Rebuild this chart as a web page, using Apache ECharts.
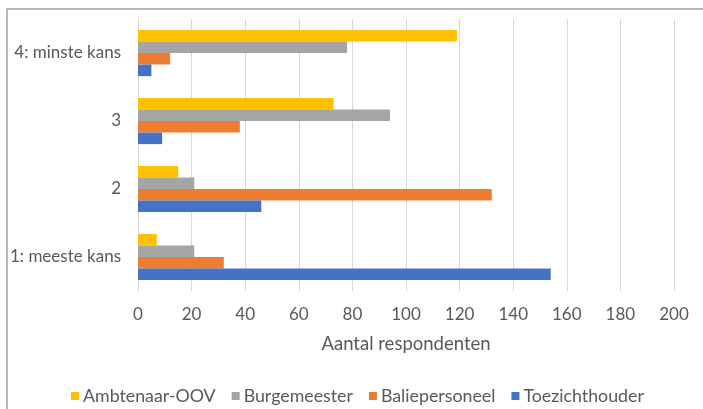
<!DOCTYPE html>
<html>
<head>
<meta charset="utf-8">
<script src="https://cdn.jsdelivr.net/npm/echarts@6/dist/echarts.min.js"></script>
<style>
  html, body { margin: 0; padding: 0; background: #fff; }
  #chart { width: 703px; height: 409px; }
</style>
</head>
<body>
<div id="chart"></div>
<script>
// Answer categories, bottom to top
const categories = ['1: meeste kans', '2', '3', '4: minste kans'];

// Number of respondents per category, one list per role
const ambtenaarOOV   = [7, 15, 73, 119];
const burgemeester   = [21, 21, 94, 78];
const baliepersoneel = [32, 132, 38, 12];
const toezichthouder = [154, 46, 9, 5];

const seriesNames = ['Ambtenaar-OOV', 'Burgemeester', 'Baliepersoneel', 'Toezichthouder'];
const seriesData = [ambtenaarOOV, burgemeester, baliepersoneel, toezichthouder];
const seriesColors = ['#FFC000', '#A5A5A5', '#ED7D31', '#4472C4'];

const xTicks = { min: 0, max: 200, interval: 20 };
const axisTitle = 'Aantal respondenten';

const FONT = 'Lato';
const TEXT = '#595959';

const chart = echarts.init(document.getElementById('chart'), null, { renderer: 'canvas' });

chart.setOption({
  animation: false,
  backgroundColor: '#ffffff',
  textStyle: { fontFamily: FONT, color: TEXT },
  graphic: [{
    type: 'rect',
    shape: { x: 7, y: 9, width: 760, height: 460 },
    style: { fill: 'none', stroke: '#a0a0a0', lineWidth: 1.5 },
    silent: true,
    z: -1
  }],
  grid: { left: 138, right: 29, top: 19, bottom: 118, containLabel: false },
  legend: {
    data: seriesNames,
    top: 382,
    left: 66,
    icon: 'rect',
    itemWidth: 8,
    itemHeight: 8,
    itemGap: 16,
    textStyle: { fontFamily: FONT, fontSize: 17.8, color: TEXT, padding: [0, 0, 0, -1] }
  },
  xAxis: {
    type: 'value',
    min: xTicks.min,
    max: xTicks.max,
    interval: xTicks.interval,
    name: axisTitle,
    nameLocation: 'middle',
    nameGap: 44,
    nameTextStyle: { fontFamily: FONT, fontSize: 18.5, color: TEXT },
    axisLine: { show: false },
    axisTick: { show: false },
    axisLabel: { fontFamily: FONT, fontSize: 17, color: TEXT, margin: 15 },
    splitLine: { show: true, lineStyle: { color: '#D9D9D9', width: 1 } }
  },
  yAxis: {
    type: 'category',
    data: categories,
    axisLine: { show: true, lineStyle: { color: '#D9D9D9', width: 1 } },
    axisTick: { show: false },
    axisLabel: { fontFamily: FONT, fontSize: 17, color: TEXT, margin: 17 },
    splitLine: { show: false }
  },
  series: seriesNames.map((name, i) => ({
    name,
    type: 'bar',
    data: seriesData[i],
    itemStyle: { color: seriesColors[i] },
    barGap: '0%',
    barCategoryGap: '32%'
  }))
});
</script>
</body>
</html>
